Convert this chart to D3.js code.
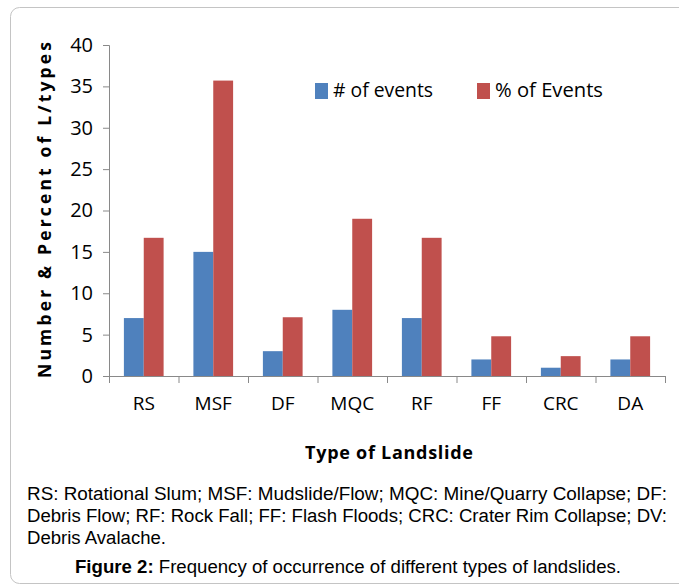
<!DOCTYPE html>
<html>
<head>
<meta charset="utf-8">
<script src="https://cdn.jsdelivr.net/npm/d3@7"></script>
<style>
  body { margin: 0; background: #fff; }
  svg { display: block; }
</style>
</head>
<body>
<svg width="679" height="586"></svg>
<script>
// landslide types and the two series
let categories = ["RS", "MSF", "DF", "MQC", "RF", "FF", "CRC", "DA"];
let seriesNames = ["# of events", "% of Events"];
let numEvents = [7, 15, 3, 8, 7, 2, 1, 2];
let pctEvents = [16.7, 35.7, 7.1, 19.0, 16.7, 4.8, 2.4, 4.8];
let yTicks = [0, 5, 10, 15, 20, 25, 30, 35, 40];
let colors = ["#4f81bd", "#c0504d"];

let captionLines = [
  "RS: Rotational Slum; MSF: Mudslide/Flow; MQC: Mine/Quarry Collapse; DF:",
  "Debris Flow; RF: Rock Fall; FF: Flash Floods; CRC: Crater Rim Collapse; DV:",
  "Debris Avalache."
];

let svg = d3.select("svg");
let axisColor = "#898989";
let chartFont = "'Open Sans', 'Noto Sans', sans-serif";

// outer rounded frame (runs off the right edge)
svg.append("rect")
  .attr("x", 10.5).attr("y", 7.5)
  .attr("width", 700).attr("height", 576)
  .attr("rx", 9)
  .attr("fill", "none")
  .attr("stroke", "#c4c4c4");

let plot = {left: 109, right: 665, top: 45, bottom: 376};

let x0 = d3.scaleBand().domain(categories).range([plot.left, plot.right]);
let x1 = d3.scaleBand().domain(seriesNames).range([0, x0.bandwidth()]).paddingOuter(0.75);
let y = d3.scaleLinear().domain([0, 40]).range([plot.bottom, plot.top]);

let data = categories.map((c, i) => ({cat: c, values: [numEvents[i], pctEvents[i]]}));

// y axis
let yAxis = svg.append("g")
  .attr("transform", "translate(" + plot.left + ",0)")
  .call(d3.axisLeft(y).tickValues(yTicks).tickSize(6).tickPadding(10));
yAxis.select(".domain").attr("stroke", axisColor);
yAxis.selectAll(".tick line").attr("stroke", axisColor);
yAxis.selectAll(".tick text")
  .attr("fill", "#000")
  .style("font-family", chartFont)
  .style("font-size", "20px");

// bars
let groups = svg.selectAll(".cat")
  .data(data)
  .enter().append("g")
  .attr("class", "cat")
  .attr("transform", d => "translate(" + x0(d.cat) + ",0)");

groups.selectAll("rect")
  .data(d => d.values.map((v, k) => ({key: seriesNames[k], value: v, k: k})))
  .enter().append("rect")
  .attr("x", d => x1(d.key))
  .attr("y", d => y(d.value))
  .attr("width", x1.bandwidth())
  .attr("height", d => y(0) - y(d.value))
  .attr("fill", d => colors[d.k]);

// x axis: labels at centres, ticks at category boundaries
let xAxis = svg.append("g")
  .attr("transform", "translate(0," + plot.bottom + ")")
  .call(d3.axisBottom(x0).tickSize(0).tickPadding(21));
xAxis.select(".domain").attr("stroke", axisColor);
xAxis.selectAll(".tick text")
  .attr("fill", "#000")
  .style("font-family", chartFont)
  .style("font-size", "19px");

let bounds = categories.map(c => x0(c)).concat([plot.right]);
xAxis.selectAll(".bound")
  .data(bounds)
  .enter().append("line")
  .attr("x1", d => d + 0.5).attr("x2", d => d + 0.5)
  .attr("y1", 0).attr("y2", 7)
  .attr("stroke", axisColor);

// legend
let legendX = [315, 477];
let legend = svg.selectAll(".legend")
  .data(seriesNames)
  .enter().append("g")
  .attr("transform", (d, i) => "translate(" + legendX[i] + ",83)");
legend.append("rect")
  .attr("width", 13).attr("height", 16)
  .attr("fill", (d, i) => colors[i]);
legend.append("text")
  .attr("x", 18).attr("y", 14)
  .style("font-family", chartFont)
  .style("font-size", "20px")
  .attr("textLength", (d, i) => i == 0 ? 100 : 108)
  .attr("lengthAdjust", "spacingAndGlyphs")
  .text(d => d);

// axis titles
svg.append("text")
  .attr("transform", "translate(51,210) rotate(-90)")
  .attr("text-anchor", "middle")
  .style("font-family", chartFont)
  .style("font-size", "17.5px")
  .style("font-weight", "bold")
  .attr("textLength", 336)
  .attr("lengthAdjust", "spacing")
  .text("Number & Percent of L/types");

svg.append("text")
  .attr("x", 389).attr("y", 459)
  .attr("text-anchor", "middle")
  .style("font-family", chartFont)
  .style("font-size", "18px")
  .style("font-weight", "bold")
  .attr("textLength", 168)
  .attr("lengthAdjust", "spacing")
  .text("Type of Landslide");

// caption block
let capFont = "'Liberation Sans', Arial, sans-serif";
let capWidths = [640, 640, 139];
svg.selectAll(".capline")
  .data(captionLines)
  .enter().append("text")
  .attr("x", 27)
  .attr("y", (d, i) => 500 + i * 22)
  .style("font-family", capFont)
  .style("font-size", "18px")
  .attr("textLength", (d, i) => capWidths[i])
  .attr("lengthAdjust", "spacingAndGlyphs")
  .text(d => d);

let fig = svg.append("text")
  .attr("x", 348).attr("y", 573)
  .attr("text-anchor", "middle")
  .style("font-family", capFont)
  .style("font-size", "18px")
  .attr("textLength", 546)
  .attr("lengthAdjust", "spacingAndGlyphs");
fig.append("tspan").style("font-weight", "bold").text("Figure 2:");
fig.append("tspan").text(" Frequency of occurrence of different types of landslides.");
</script>
</body>
</html>
